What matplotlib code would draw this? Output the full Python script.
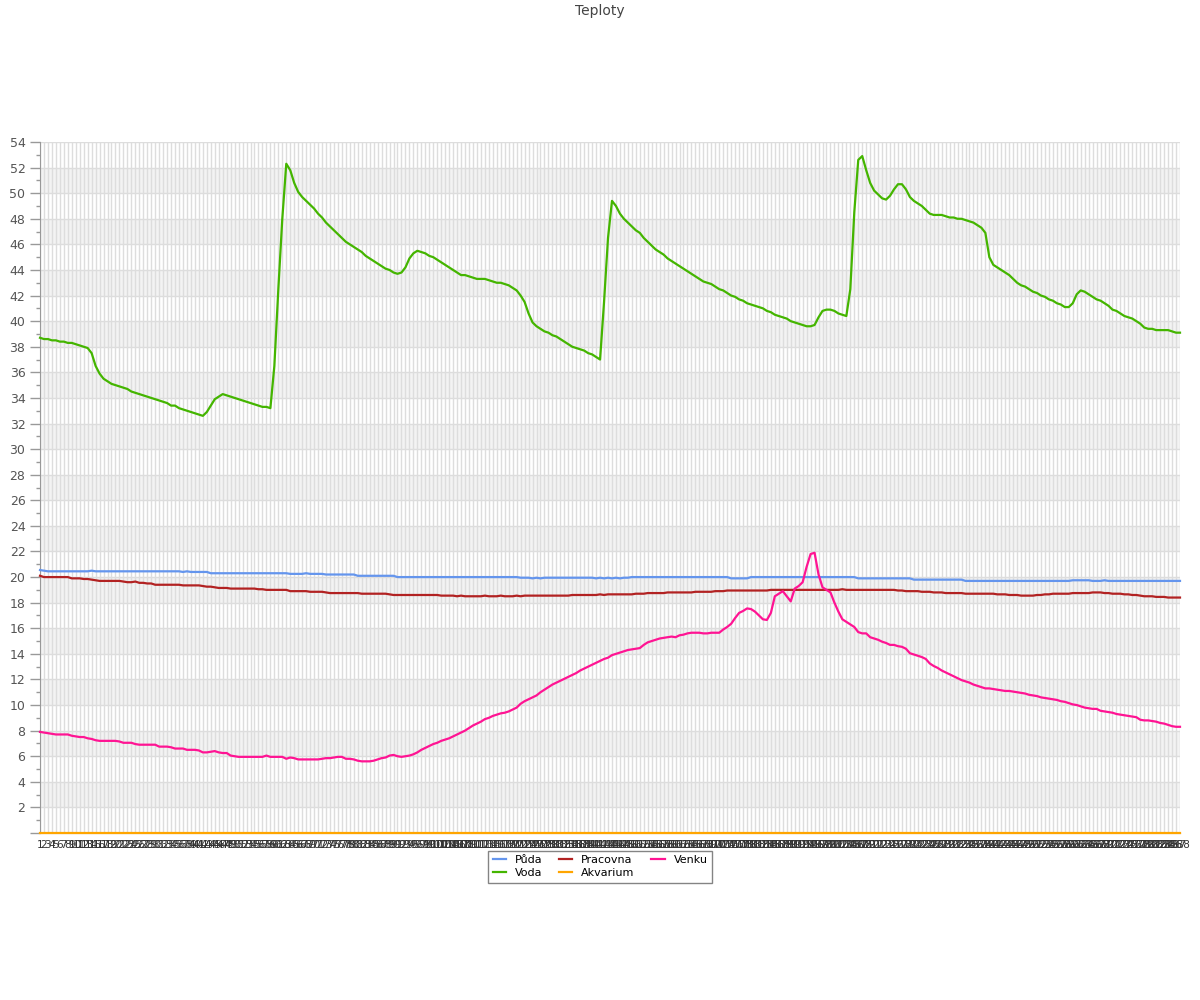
import numpy as np
import matplotlib
matplotlib.use("Agg")
import matplotlib.pyplot as plt

# categories: measurement number 1..288
labels = [str(i) for i in range(1, 289)]

puda = [
    20.55, 20.5, 20.45, 20.45, 20.45, 20.45, 20.45, 20.45, 20.45, 20.45,
    20.45, 20.45, 20.45, 20.5, 20.45, 20.45, 20.45, 20.45, 20.45, 20.45,
    20.45, 20.45, 20.45, 20.45, 20.45, 20.45, 20.45, 20.45, 20.45, 20.45,
    20.45, 20.45, 20.45, 20.45, 20.45, 20.45, 20.4, 20.45, 20.4, 20.4,
    20.4, 20.4, 20.4, 20.3, 20.3, 20.3, 20.3, 20.3, 20.3, 20.3,
    20.3, 20.3, 20.3, 20.3, 20.3, 20.3, 20.3, 20.3, 20.3, 20.3,
    20.3, 20.3, 20.3, 20.25, 20.25, 20.25, 20.25, 20.3, 20.25, 20.25,
    20.25, 20.25, 20.2, 20.2, 20.2, 20.2, 20.2, 20.2, 20.2, 20.2,
    20.1, 20.1, 20.1, 20.1, 20.1, 20.1, 20.1, 20.1, 20.1, 20.1,
    20.0, 20.0, 20.0, 20.0, 20.0, 20.0, 20.0, 20.0, 20.0, 20.0,
    20.0, 20.0, 20.0, 20.0, 20.0, 20.0, 20.0, 20.0, 20.0, 20.0,
    20.0, 20.0, 20.0, 20.0, 20.0, 20.0, 20.0, 20.0, 20.0, 20.0,
    20.0, 19.95, 19.95, 19.95, 19.9, 19.95, 19.9, 19.95, 19.95, 19.95,
    19.95, 19.95, 19.95, 19.95, 19.95, 19.95, 19.95, 19.95, 19.95, 19.95,
    19.9, 19.95, 19.9, 19.95, 19.9, 19.95, 19.9, 19.95, 19.95, 20.0,
    20.0, 20.0, 20.0, 20.0, 20.0, 20.0, 20.0, 20.0, 20.0, 20.0,
    20.0, 20.0, 20.0, 20.0, 20.0, 20.0, 20.0, 20.0, 20.0, 20.0,
    20.0, 20.0, 20.0, 20.0, 19.9, 19.9, 19.9, 19.9, 19.9, 20.0,
    20.0, 20.0, 20.0, 20.0, 20.0, 20.0, 20.0, 20.0, 20.0, 20.0,
    20.0, 20.0, 20.0, 20.0, 20.0, 20.0, 20.0, 20.0, 20.0, 20.0,
    20.0, 20.0, 20.0, 20.0, 20.0, 20.0, 19.9, 19.9, 19.9, 19.9,
    19.9, 19.9, 19.9, 19.9, 19.9, 19.9, 19.9, 19.9, 19.9, 19.9,
    19.8, 19.8, 19.8, 19.8, 19.8, 19.8, 19.8, 19.8, 19.8, 19.8,
    19.8, 19.8, 19.8, 19.7, 19.7, 19.7, 19.7, 19.7, 19.7, 19.7,
    19.7, 19.7, 19.7, 19.7, 19.7, 19.7, 19.7, 19.7, 19.7, 19.7,
    19.7, 19.7, 19.7, 19.7, 19.7, 19.7, 19.7, 19.7, 19.7, 19.7,
    19.75, 19.75, 19.75, 19.75, 19.75, 19.7, 19.7, 19.7, 19.75, 19.7,
    19.7, 19.7, 19.7, 19.7, 19.7, 19.7, 19.7, 19.7, 19.7, 19.7,
    19.7, 19.7, 19.7, 19.7, 19.7, 19.7, 19.7, 19.7,
]

voda = [
    38.7, 38.6, 38.6, 38.5, 38.5, 38.4, 38.4, 38.3, 38.3, 38.2,
    38.1, 38.0, 37.9, 37.5, 36.5, 35.9, 35.5, 35.3, 35.1, 35.0,
    34.9, 34.8, 34.7, 34.5, 34.4, 34.3, 34.2, 34.1, 34.0, 33.9,
    33.8, 33.7, 33.6, 33.4, 33.4, 33.2, 33.1, 33.0, 32.9, 32.8,
    32.7, 32.6, 32.9, 33.4, 33.9, 34.1, 34.3, 34.2, 34.1, 34.0,
    33.9, 33.8, 33.7, 33.6, 33.5, 33.4, 33.3, 33.3, 33.2, 36.5,
    42.5, 48.0, 52.3, 51.8, 50.8, 50.1, 49.7, 49.4, 49.1, 48.8,
    48.4, 48.1, 47.7, 47.4, 47.1, 46.8, 46.5, 46.2, 46.0, 45.8,
    45.6, 45.4, 45.1, 44.9, 44.7, 44.5, 44.3, 44.1, 44.0, 43.8,
    43.7, 43.8, 44.2, 44.9, 45.3, 45.5, 45.4, 45.3, 45.1, 45.0,
    44.8, 44.6, 44.4, 44.2, 44.0, 43.8, 43.6, 43.6, 43.5, 43.4,
    43.3, 43.3, 43.3, 43.2, 43.1, 43.0, 43.0, 42.9, 42.8, 42.6,
    42.4, 42.0, 41.5, 40.6, 39.9, 39.6, 39.4, 39.2, 39.1, 38.9,
    38.8, 38.6, 38.4, 38.2, 38.0, 37.9, 37.8, 37.7, 37.5, 37.4,
    37.2, 37.0, 41.5, 46.5, 49.4, 49.0, 48.4, 48.0, 47.7, 47.4,
    47.1, 46.9, 46.5, 46.2, 45.9, 45.6, 45.4, 45.2, 44.9, 44.7,
    44.5, 44.3, 44.1, 43.9, 43.7, 43.5, 43.3, 43.1, 43.0, 42.9,
    42.7, 42.5, 42.4, 42.2, 42.0, 41.9, 41.7, 41.6, 41.4, 41.3,
    41.2, 41.1, 41.0, 40.8, 40.7, 40.5, 40.4, 40.3, 40.2, 40.0,
    39.9, 39.8, 39.7, 39.6, 39.6, 39.7, 40.3, 40.8, 40.9, 40.9,
    40.8, 40.6, 40.5, 40.4, 42.5, 48.5, 52.6, 52.9, 51.8, 50.8,
    50.2, 49.9, 49.6, 49.5, 49.8, 50.3, 50.7, 50.7, 50.3, 49.7,
    49.4, 49.2, 49.0, 48.7, 48.4, 48.3, 48.3, 48.3, 48.2, 48.1,
    48.1, 48.0, 48.0, 47.9, 47.8, 47.7, 47.5, 47.3, 46.9, 45.0,
    44.4, 44.2, 44.0, 43.8, 43.6, 43.3, 43.0, 42.8, 42.7, 42.5,
    42.3, 42.2, 42.0, 41.9, 41.7, 41.6, 41.4, 41.3, 41.1, 41.1,
    41.4, 42.1, 42.4, 42.3, 42.1, 41.9, 41.7, 41.6, 41.4, 41.2,
    40.9, 40.8, 40.6, 40.4, 40.3, 40.2, 40.0, 39.8, 39.5, 39.4,
    39.4, 39.3, 39.3, 39.3, 39.3, 39.2, 39.1, 39.1,
]

pracovna = [
    20.1, 20.0, 20.0, 20.0, 20.0, 20.0, 20.0, 20.0, 19.9, 19.9,
    19.9, 19.85, 19.85, 19.8, 19.75, 19.7, 19.7, 19.7, 19.7, 19.7,
    19.7, 19.65, 19.6, 19.6, 19.65, 19.55, 19.55, 19.5, 19.5, 19.4,
    19.4, 19.4, 19.4, 19.4, 19.4, 19.4, 19.35, 19.35, 19.35, 19.35,
    19.35, 19.3, 19.25, 19.25, 19.2, 19.15, 19.15, 19.15, 19.1, 19.1,
    19.1, 19.1, 19.1, 19.1, 19.1, 19.05, 19.05, 19.0, 19.0, 19.0,
    19.0, 19.0, 19.0, 18.9, 18.9, 18.9, 18.9, 18.9, 18.85, 18.85,
    18.85, 18.85, 18.8, 18.75, 18.75, 18.75, 18.75, 18.75, 18.75, 18.75,
    18.75, 18.7, 18.7, 18.7, 18.7, 18.7, 18.7, 18.7, 18.65, 18.6,
    18.6, 18.6, 18.6, 18.6, 18.6, 18.6, 18.6, 18.6, 18.6, 18.6,
    18.6, 18.55, 18.55, 18.55, 18.55, 18.5, 18.55, 18.5, 18.5, 18.5,
    18.5, 18.5, 18.55, 18.5, 18.5, 18.5, 18.55, 18.5, 18.5, 18.5,
    18.55, 18.5, 18.55, 18.55, 18.55, 18.55, 18.55, 18.55, 18.55, 18.55,
    18.55, 18.55, 18.55, 18.55, 18.6, 18.6, 18.6, 18.6, 18.6, 18.6,
    18.6, 18.65, 18.6, 18.65, 18.65, 18.65, 18.65, 18.65, 18.65, 18.65,
    18.7, 18.7, 18.7, 18.75, 18.75, 18.75, 18.75, 18.75, 18.8, 18.8,
    18.8, 18.8, 18.8, 18.8, 18.8, 18.85, 18.85, 18.85, 18.85, 18.85,
    18.9, 18.9, 18.9, 18.95, 18.95, 18.95, 18.95, 18.95, 18.95, 18.95,
    18.95, 18.95, 18.95, 18.95, 19.0, 19.0, 19.0, 19.0, 19.0, 19.0,
    19.0, 19.0, 19.0, 19.0, 19.0, 19.0, 19.0, 19.0, 19.0, 19.0,
    19.0, 19.0, 19.05, 19.0, 19.0, 19.0, 19.0, 19.0, 19.0, 19.0,
    19.0, 19.0, 19.0, 19.0, 19.0, 19.0, 18.95, 18.95, 18.9, 18.9,
    18.9, 18.9, 18.85, 18.85, 18.85, 18.8, 18.8, 18.8, 18.75, 18.75,
    18.75, 18.75, 18.75, 18.7, 18.7, 18.7, 18.7, 18.7, 18.7, 18.7,
    18.7, 18.65, 18.65, 18.65, 18.6, 18.6, 18.6, 18.55, 18.55, 18.55,
    18.55, 18.6, 18.6, 18.65, 18.65, 18.7, 18.7, 18.7, 18.7, 18.7,
    18.75, 18.75, 18.75, 18.75, 18.75, 18.8, 18.8, 18.8, 18.75, 18.75,
    18.7, 18.7, 18.7, 18.65, 18.65, 18.6, 18.6, 18.55, 18.5, 18.5,
    18.5, 18.45, 18.45, 18.45, 18.4, 18.4, 18.4, 18.4,
]

akvarium = [
    0, 0, 0, 0, 0, 0, 0, 0, 0, 0, 0, 0, 0, 0, 0, 0, 0, 0, 0, 0, 0, 0, 0, 0,
    0, 0, 0, 0, 0, 0, 0, 0, 0, 0, 0, 0, 0, 0, 0, 0, 0, 0, 0, 0, 0, 0, 0, 0,
    0, 0, 0, 0, 0, 0, 0, 0, 0, 0, 0, 0, 0, 0, 0, 0, 0, 0, 0, 0, 0, 0, 0, 0,
    0, 0, 0, 0, 0, 0, 0, 0, 0, 0, 0, 0, 0, 0, 0, 0, 0, 0, 0, 0, 0, 0, 0, 0,
    0, 0, 0, 0, 0, 0, 0, 0, 0, 0, 0, 0, 0, 0, 0, 0, 0, 0, 0, 0, 0, 0, 0, 0,
    0, 0, 0, 0, 0, 0, 0, 0, 0, 0, 0, 0, 0, 0, 0, 0, 0, 0, 0, 0, 0, 0, 0, 0,
    0, 0, 0, 0, 0, 0, 0, 0, 0, 0, 0, 0, 0, 0, 0, 0, 0, 0, 0, 0, 0, 0, 0, 0,
    0, 0, 0, 0, 0, 0, 0, 0, 0, 0, 0, 0, 0, 0, 0, 0, 0, 0, 0, 0, 0, 0, 0, 0,
    0, 0, 0, 0, 0, 0, 0, 0, 0, 0, 0, 0, 0, 0, 0, 0, 0, 0, 0, 0, 0, 0, 0, 0,
    0, 0, 0, 0, 0, 0, 0, 0, 0, 0, 0, 0, 0, 0, 0, 0, 0, 0, 0, 0, 0, 0, 0, 0,
    0, 0, 0, 0, 0, 0, 0, 0, 0, 0, 0, 0, 0, 0, 0, 0, 0, 0, 0, 0, 0, 0, 0, 0,
    0, 0, 0, 0, 0, 0, 0, 0, 0, 0, 0, 0, 0, 0, 0, 0, 0, 0, 0, 0, 0, 0, 0, 0,
]

venku = [
    7.9, 7.85, 7.8, 7.75, 7.7, 7.7, 7.7, 7.7, 7.6, 7.55,
    7.5, 7.5, 7.4, 7.35, 7.25, 7.2, 7.2, 7.2, 7.2, 7.2,
    7.15, 7.05, 7.05, 7.05, 6.95, 6.9, 6.9, 6.9, 6.9, 6.9,
    6.75, 6.75, 6.75, 6.7, 6.6, 6.6, 6.6, 6.5, 6.5, 6.5,
    6.45, 6.3, 6.3, 6.35, 6.4, 6.3, 6.25, 6.25, 6.05, 6.0,
    5.95, 5.95, 5.95, 5.95, 5.95, 5.95, 5.95, 6.05, 5.95, 5.95,
    5.95, 5.95, 5.8, 5.9, 5.85, 5.75, 5.75, 5.75, 5.75, 5.75,
    5.75, 5.8, 5.85, 5.85, 5.9, 5.95, 5.95, 5.8, 5.8, 5.75,
    5.65, 5.6, 5.6, 5.6, 5.65, 5.75, 5.85, 5.9, 6.05, 6.1,
    6.0, 5.95, 6.0, 6.05, 6.15, 6.3, 6.5, 6.65, 6.8, 6.95,
    7.05, 7.2, 7.3, 7.4, 7.55, 7.7, 7.85, 8.0, 8.2, 8.4,
    8.55, 8.7, 8.9, 9.0, 9.15, 9.25, 9.35, 9.4, 9.5, 9.65,
    9.8, 10.1, 10.3, 10.45, 10.6, 10.75, 11.0, 11.2, 11.4, 11.6,
    11.75, 11.9, 12.05, 12.2, 12.35, 12.5, 12.7, 12.85, 13.0, 13.15,
    13.3, 13.45, 13.6, 13.7, 13.9, 14.0, 14.1, 14.2, 14.3, 14.35,
    14.4, 14.45, 14.7, 14.9, 15.0, 15.1, 15.2, 15.25, 15.3, 15.35,
    15.3, 15.45, 15.5, 15.6, 15.65, 15.65, 15.65, 15.6, 15.6, 15.65,
    15.65, 15.65, 15.9, 16.1, 16.35, 16.8, 17.2, 17.35, 17.55, 17.5,
    17.3, 17.0, 16.7, 16.65, 17.2, 18.5, 18.7, 18.9, 18.5, 18.1,
    19.1, 19.3, 19.6, 20.8, 21.8, 21.9, 20.2, 19.2, 19.0, 18.8,
    18.0, 17.3, 16.7, 16.5, 16.3, 16.1, 15.7, 15.6, 15.6, 15.3,
    15.2, 15.1, 14.95, 14.85, 14.7, 14.7, 14.6, 14.55, 14.4, 14.05,
    13.95, 13.85, 13.75, 13.6, 13.25, 13.05, 12.9, 12.7, 12.55, 12.4,
    12.25, 12.1, 11.95, 11.85, 11.75, 11.6, 11.5, 11.4, 11.3, 11.3,
    11.25, 11.2, 11.15, 11.1, 11.1, 11.05, 11.0, 10.95, 10.9, 10.8,
    10.75, 10.7, 10.6, 10.55, 10.5, 10.45, 10.4, 10.3, 10.25, 10.15,
    10.05, 10.0, 9.9, 9.8, 9.75, 9.7, 9.7, 9.55, 9.5, 9.45,
    9.4, 9.3, 9.25, 9.2, 9.15, 9.1, 9.05, 8.85, 8.8, 8.8,
    8.75, 8.7, 8.6, 8.55, 8.45, 8.35, 8.3, 8.3,
]

series = [
    ("Půda", puda, "#6495ed"),
    ("Voda", voda, "#44b500"),
    ("Pracovna", pracovna, "#b22222"),
    ("Akvarium", akvarium, "#ffa500"),
    ("Venku", venku, "#ff1493"),
]

fig = plt.figure(figsize=(12, 10), dpi=100)
ax = fig.add_axes([40 / 1200, 1 - 833 / 1000, 1140 / 1200, 691 / 1000])

x = np.arange(len(labels))

# alternating horizontal bands
for lo in range(2, 54, 4):
    ax.axhspan(lo, lo + 2, color="#f3f3f3", zorder=0, lw=0)

ax.set_xlim(0, len(labels) - 1)
ax.set_ylim(0, 54)

ax.set_xticks(x)
ax.set_xticklabels(labels, fontsize=7.5, color="#333333")
ax.tick_params(axis="x", length=0, pad=5)

yt = np.arange(0, 55, 2)
ax.set_yticks(yt)
ax.set_yticklabels([""] + [str(v) for v in yt[1:]], fontsize=9, color="#555555")
ax.set_yticks(np.arange(0, 55, 1), minor=True)
ax.tick_params(axis="y", which="major", length=7, color="#999999", width=1)
ax.tick_params(axis="y", which="minor", length=3, color="#999999", width=1)

ax.grid(True, axis="both", which="major", color="#dddddd", lw=1, zorder=1)
ax.set_axisbelow(True)

for s in ["top", "right"]:
    ax.spines[s].set_visible(False)
ax.spines["left"].set_color("#999999")
ax.spines["bottom"].set_color("#999999")

for name, vals, col in series:
    ax.plot(x, vals, color=col, lw=1.6, label=name, zorder=3, clip_on=False)

fig.text(0.5, 1 - 11 / 1000, "Teploty", ha="center", va="center",
         fontsize=10, color="#444444")

fig.legend(loc="upper center", bbox_to_anchor=(0.5, 0.155), ncol=3,
           fontsize=8, frameon=True, fancybox=False, edgecolor="#666666",
           handlelength=1.2, columnspacing=1.5, borderpad=0.4,
           labelspacing=0.3, handletextpad=0.8)

fig.savefig("out.png", dpi=100)
